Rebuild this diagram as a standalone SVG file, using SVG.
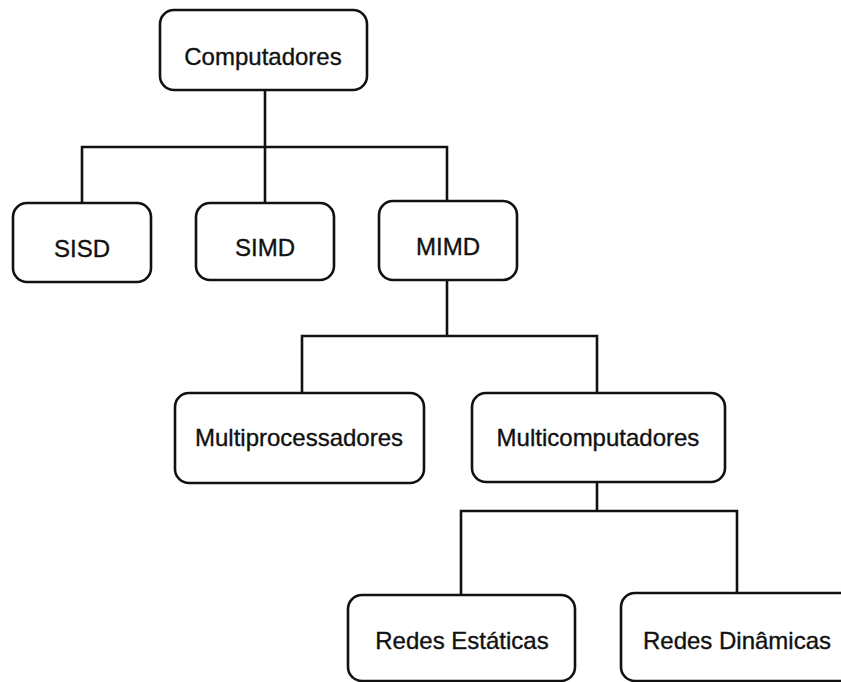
<svg xmlns="http://www.w3.org/2000/svg" width="841" height="682" viewBox="0 0 841 682">
  <style>
    .box { fill: #ffffff; stroke: #111111; stroke-width: 2.6; }
    .lbl { font-family: "Liberation Sans", Arial, sans-serif; font-size: 24px; fill: #111111; stroke: #111111; stroke-width: 0.35; text-anchor: middle; }
    .wire { fill: none; stroke: #111111; stroke-width: 2.6; stroke-linecap: square; }
  </style>
  <rect width="841" height="682" fill="#ffffff"/>

  <!-- connectors -->
  <g id="connectors">
    <path class="wire" d="M265 91 V147 M82 203 V147 H447 V201 M265 147 V203"/>
    <path class="wire" d="M447 280 V336 M302 393 V336 H597 V393"/>
    <path class="wire" d="M597 482 V511 M461 595 V511 H737 V593"/>
  </g>

  <!-- nodes -->
  <g id="computadores">
    <rect class="box" x="160" y="10" width="207" height="80" rx="14"/>
    <text class="lbl" x="263" y="65">Computadores</text>
  </g>
  <g id="sisd">
    <rect class="box" x="13" y="203" width="138" height="79" rx="14"/>
    <text class="lbl" x="82" y="257">SISD</text>
  </g>
  <g id="simd">
    <rect class="box" x="196" y="203" width="138" height="77" rx="14"/>
    <text class="lbl" x="265" y="256">SIMD</text>
  </g>
  <g id="mimd">
    <rect class="box" x="379" y="201" width="138" height="79" rx="14"/>
    <text class="lbl" x="448" y="255">MIMD</text>
  </g>
  <g id="multiprocessadores">
    <rect class="box" x="175" y="393" width="249" height="90" rx="14"/>
    <text class="lbl" x="299" y="446">Multiprocessadores</text>
  </g>
  <g id="multicomputadores">
    <rect class="box" x="472" y="393" width="253" height="89" rx="14"/>
    <text class="lbl" x="598" y="446">Multicomputadores</text>
  </g>
  <g id="redes-estaticas">
    <rect class="box" x="348" y="595" width="227" height="86" rx="14"/>
    <text class="lbl" x="462" y="649">Redes Estáticas</text>
  </g>
  <g id="redes-dinamicas">
    <rect class="box" x="621" y="593" width="240" height="88" rx="14"/>
    <text class="lbl" x="737" y="649">Redes Dinâmicas</text>
  </g>
</svg>
